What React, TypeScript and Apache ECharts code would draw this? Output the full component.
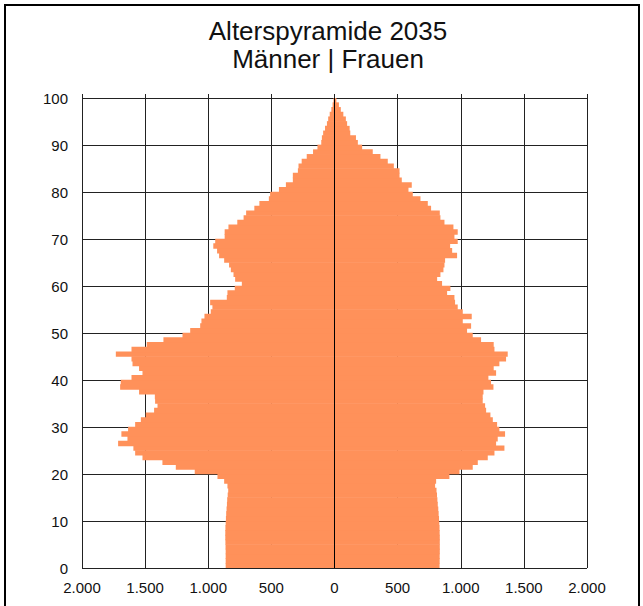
import React, { useEffect, useRef } from "react";
import * as echarts from "echarts";

// ages 0..99
const ages: number[] = Array.from({ length: 100 }, (_, i) => i);

const men: number[] = [
  862, 862, 862, 862, 863, 864, 865, 865, 864, 862,
  860, 858, 855, 852, 850, 846, 842, 848, 874, 927,
  1107, 1257, 1363, 1521, 1579, 1593, 1714, 1640, 1688, 1635,
  1579, 1534, 1495, 1429, 1402, 1421, 1423, 1548, 1698, 1693,
  1608, 1521, 1548, 1600, 1608, 1732, 1608, 1487, 1355, 1204,
  1143, 1064, 1054, 1030, 980, 967, 985, 853, 848, 790,
  734, 787, 800, 821, 835, 874, 914, 930, 960, 945,
  870, 870, 840, 770, 720, 700, 635, 595, 520, 510,
  440, 385, 330, 330, 290, 285, 260, 220, 170, 135,
  105, 100, 90, 75, 60, 50, 38, 25, 15, 8,
];

const women: number[] = [
  832, 833, 833, 834, 834, 834, 834, 833, 832, 830,
  828, 825, 822, 818, 815, 812, 808, 797, 805, 910,
  990, 1095, 1135, 1214, 1267, 1346, 1280, 1293, 1351, 1306,
  1288, 1254, 1235, 1201, 1193, 1174, 1174, 1180, 1259, 1240,
  1219, 1280, 1261, 1306, 1359, 1372, 1267, 1261, 1161, 1095,
  1050, 1082, 1016, 1087, 1016, 976, 955, 950, 892, 918,
  852, 813, 839, 863, 871, 876, 971, 932, 916, 976,
  950, 976, 942, 871, 839, 834, 765, 739, 681, 620,
  586, 612, 533, 515, 515, 470, 422, 364, 303, 219,
  185, 170, 125, 120, 100, 90, 70, 50, 35, 15,
];

const titleLines: string[] = ["Alterspyramide 2035", "Männer | Frauen"];

const FONT = '"Liberation Sans", Arial, sans-serif';
const BAR_COLOR = "#FF915A";

function fmt(v: number): string {
  const a = Math.abs(v);
  if (a >= 1000) {
    const s = String(a);
    return s.slice(0, s.length - 3) + "." + s.slice(s.length - 3);
  }
  return String(a);
}

export default function App() {
  const ref = useRef<HTMLDivElement>(null);

  useEffect(() => {
    if (!ref.current) return;
    const chart = echarts.init(ref.current, null, { renderer: "svg" });
    chart.setOption({
      animation: false,
      graphic: [
        {
          type: "text",
          x: 328,
          y: 31,
          style: {
            text: titleLines[0],
            font: `26px ${FONT}`,
            fill: "#111",
            textAlign: "center",
            textVerticalAlign: "middle",
          },
        },
        {
          type: "text",
          x: 328,
          y: 59,
          style: {
            text: titleLines[1],
            font: `26px ${FONT}`,
            fill: "#111",
            textAlign: "center",
            textVerticalAlign: "middle",
          },
        },
      ],
      grid: { left: 82, right: 56, top: 98, bottom: 38, containLabel: false },
      xAxis: [
        {
          type: "value",
          min: -2000,
          max: 2000,
          interval: 500,
          position: "bottom",
          axisLine: { show: false },
          axisTick: { show: false },
          axisLabel: {
            formatter: (v: number) => fmt(v),
            color: "#111",
            fontSize: 15,
            fontFamily: FONT,
            margin: 12,
          },
          splitLine: { show: true, lineStyle: { color: "#222", width: 1 } },
        },
        {
          type: "value",
          min: -2000,
          max: 2000,
          interval: 500,
          position: "top",
          axisLine: { show: false },
          axisTick: { show: true, length: 4, inside: false, lineStyle: { color: "#222", width: 1 } },
          axisLabel: { show: false },
          splitLine: { show: false },
        },
      ],
      yAxis: [
        {
          type: "category",
          data: ages,
          boundaryGap: true,
          axisLine: { show: false },
          axisTick: { show: false },
          axisLabel: { show: false },
          splitLine: { show: false },
        },
        {
          type: "value",
          min: 0,
          max: 100,
          interval: 10,
          position: "left",
          axisLine: { show: false },
          axisTick: { show: false },
          axisLabel: {
            color: "#111",
            fontSize: 15,
            fontFamily: FONT,
            margin: 14,
          },
          splitLine: { show: true, lineStyle: { color: "#222", width: 1 } },
        },
      ],
      series: [
        {
          name: "Männer",
          type: "bar",
          stack: "pyr",
          yAxisIndex: 0,
          xAxisIndex: 0,
          data: men.map((v) => -v),
          barWidth: 5.4,
          itemStyle: { color: BAR_COLOR },
          silent: true,
        },
        {
          name: "Frauen",
          type: "bar",
          stack: "pyr",
          yAxisIndex: 0,
          xAxisIndex: 0,
          data: women,
          barWidth: 5.4,
          itemStyle: { color: BAR_COLOR },
          silent: true,
          markLine: {
            silent: true,
            symbol: "none",
            label: { show: false },
            lineStyle: { color: "#000", width: 1, type: "solid" },
            data: [{ xAxis: 0 }],
          },
        },
      ],
    });
    return () => chart.dispose();
  }, []);

  return (
    <div style={{ position: "absolute", left: 0, top: 0, width: 643, height: 606, overflow: "hidden", background: "#fff" }}>
      <div
        style={{
          position: "absolute",
          left: 4,
          top: 4,
          width: 636,
          height: 640,
          border: "2px solid #000",
          boxSizing: "border-box",
        }}
      />
      <div ref={ref} style={{ position: "absolute", left: 0, top: 0, width: 643, height: 606 }} />
    </div>
  );
}
